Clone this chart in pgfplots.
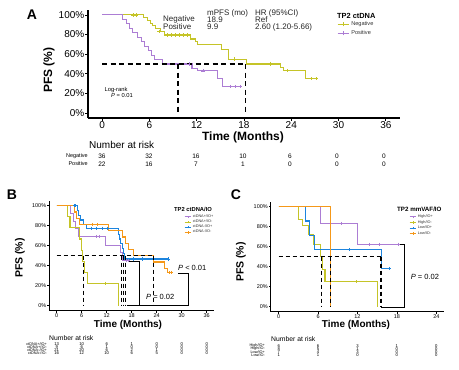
\documentclass[border=0pt]{standalone}
\usepackage{fontspec}
\setmainfont{Liberation Sans}
\usepackage{pgfplots}
\pgfplotsset{compat=1.18}
\definecolor{cY}{RGB}{197,196,40}
\definecolor{cP}{RGB}{172,125,212}
\definecolor{cB}{RGB}{28,132,222}
\definecolor{cO}{RGB}{245,152,25}
\newcommand{\fs}[1]{\fontsize{#1}{#1}\selectfont}
\pgfplotsset{
  km/.style={axis lines=left, axis line style={-, line width=1.1pt, black},
    tick align=outside, major tick length=2.5pt, tick style={black, line width=0.7pt},
    scale only axis, ymin=-5, ymax=105, ytick={0,20,40,60,80,100},
    yticklabels={0\%,20\%,40\%,60\%,80\%,100\%}},
  curve/.style={const plot, line width=1.1pt, #1},
  cens/.style={only marks, mark=+, mark size=1.6pt, mark options={line width=0.6pt}, #1, forget plot},
  med/.style={black, line width=1.7pt, dash pattern=on 5pt off 3.5pt, forget plot},
  medS/.style={black, line width=1.4pt, dash pattern=on 4pt off 3pt, forget plot},
  brk/.style={black, line width=0.8pt, forget plot},
}
\begin{document}
\begin{tikzpicture}
\path[use as bounding box, fill=white] (0,0) rectangle (459pt,-370pt);

% ---------------- Panel A ----------------
\begin{axis}[km, at={(88pt,-118pt)}, anchor=south west, width=312pt, height=108pt,
  xmin=-1.8, xmax=37.8, xtick={0,6,12,18,24,30,36}, xticklabels={0,6,12,18,24,30,36},
  ticklabel style={font=\fs{10}, inner sep=1pt},
  legend style={at={(0.798,0.895)}, anchor=north west, draw=none, fill=none, font=\fs{5.6},
    inner sep=0pt, row sep=3.4pt, nodes={inner xsep=2pt, inner ysep=0pt, text=black!80}},
  legend cell align=left,
  legend image code/.code={\draw[#1,line width=1.1pt] (0pt,0pt) -- (11pt,0pt); \draw[#1,line width=0.6pt] (5.5pt,-2pt) -- (5.5pt,2pt);},
]
\addplot[curve=cY] coordinates {(0,100) (5.3,97.2) (5.8,94.4) (6.1,91.7) (6.4,88.9) (6.8,86.1) (7.4,83.3) (7.9,79.5) (11.2,75.5) (11.8,72.5) (12.1,70.0) (15.1,65.2) (16.0,55.0) (18.3,50.0) (22.6,46.5) (23.0,43.5) (25.8,35.0) (27.4,35.0)};
\addlegendentry{Negative}
\addplot[curve=cP] coordinates {(0,100) (2.6,95.5) (3.1,90.9) (3.5,86.4) (3.9,81.8) (4.5,77.3) (5.0,72.7) (5.4,68.2) (5.9,63.6) (6.3,59.1) (6.6,54.5) (7.6,50.0) (11.4,45.5) (12.1,43.0) (14.6,35.0) (15.3,27.0) (17.7,27.0)};
\addlegendentry{Positive}
\addplot[cens=cY] coordinates {(3.9,100) (4.3,100) (7.2,83.3) (8.3,79.5) (8.8,79.5) (9.3,79.5) (9.8,79.5) (10.3,79.5) (10.8,79.5) (16.8,55) (21.3,50) (23.5,43.5) (26.6,35) (27.2,35)};
\addplot[cens=cP] coordinates {(11.0,50) (12.8,43) (16.3,27) (16.9,27) (17.5,27)};
\addplot[med] coordinates {(0,50) (18.3,50)};
\addplot[med] coordinates {(9.6,50) (9.6,0)};
\addplot[med] coordinates {(18.2,50) (18.2,0)};
\end{axis}

% ---------------- Panel B ----------------
\begin{axis}[km, at={(49.2pt,-310.7pt)}, anchor=south west, width=165pt, height=110pt,
  xmin=-1.8, xmax=37.8, xtick={0,6,12,18,24,30,36}, xticklabels={0,6,12,18,24,30,36},
  major tick length=2pt,
  ticklabel style={font=\fs{5.5}, inner sep=0.8pt},
  legend style={at={(0.817,0.874)}, anchor=north west, draw=none, fill=none, font=\fs{3.8},
    inner sep=0pt, row sep=0.9pt, nodes={inner xsep=1.2pt, inner ysep=0pt, text=black!80}},
  legend cell align=left,
  legend image code/.code={\draw[#1,line width=0.9pt] (0pt,0pt) -- (6.5pt,0pt); \draw[#1,line width=0.5pt] (3.25pt,-1.3pt) -- (3.25pt,1.3pt);},
]
\addplot[curve=cP] coordinates {(0,100) (3.4,92.3) (4.0,84.6) (4.6,76.9) (5.3,69.2) (11.8,60.6) (15.3,53) (15.7,45.4) (17.2,45.4)};
\addlegendentry{ctDNA+/IO+}
\addplot[curve=cY] coordinates {(0,100) (2.7,88.9) (3.2,77.8) (5.5,66.7) (5.9,55.6) (6.3,44.4) (6.7,33.3) (7.3,22.2) (14.9,0)};
\addlegendentry{ctDNA+/IO-}
\addplot[curve=cB] coordinates {(0,100) (4.9,95.2) (5.3,90.5) (5.8,85.7) (6.4,81) (7.2,77.5) (14.8,71.4) (15.1,66.7) (15.4,61.9) (15.7,57.1) (16.0,52.4) (16.3,46.7) (26.8,46.7)};
\addlegendentry{ctDNA-/IO+}
\addplot[curve=cO] coordinates {(0,100) (4.2,93.75) (4.7,87.5) (5.4,81.25) (12.5,75) (15.8,68.75) (16.5,62.5) (17.3,56.25) (18.4,50) (23.2,43.75) (25.9,37.5) (26.6,33.3) (27.6,33.3)};
\addlegendentry{ctDNA-/IO-}
\addplot[cens=cP] coordinates {(9.5,69.2) (10.2,69.2) (16.6,45.4) (17.2,45.4)};
\addplot[cens=cY] coordinates {(11.6,22.2)};
\addplot[cens=cB] coordinates {(4.2,100) (4.5,100) (8.4,77.5) (9.4,77.5) (10.9,77.5) (12.2,77.5) (18.5,46.7) (20.5,46.7) (26.8,46.7)};
\addplot[cens=cO] coordinates {(8.5,81.25) (9.8,81.25) (27.0,33.3) (27.6,33.3)};
\addplot[medS] coordinates {(0,50) (23.2,50)};
\addplot[medS] coordinates {(6.5,50) (6.5,0)};
\addplot[medS] coordinates {(15.5,50) (15.5,0)};
\addplot[medS] coordinates {(16.0,50) (16.0,0)};
\addplot[medS] coordinates {(16.5,50) (16.5,0)};
\addplot[medS] coordinates {(23.2,50) (23.2,0)};
\addplot[brk] coordinates {(17.2,44.5) (19.8,44.5) (19.8,0)};
\addplot[brk] coordinates {(16.8,0) (31.6,0) (31.6,32.4) (29.2,32.4)};
\end{axis}

% ---------------- Panel C ----------------
\begin{axis}[km, at={(270.8pt,-311.7pt)}, anchor=south west, width=173.4pt, height=110pt,
  xmin=-1.2, xmax=25.2, xtick={0,6,12,18,24}, xticklabels={0,6,12,18,24},
  major tick length=2pt,
  ticklabel style={font=\fs{5.5}, inner sep=0.8pt},
  legend style={at={(0.797,0.883)}, anchor=north west, draw=none, fill=none, font=\fs{3.8},
    inner sep=0pt, row sep=1.3pt, nodes={inner xsep=1.2pt, inner ysep=0pt, text=black!80}},
  legend cell align=left,
  legend image code/.code={\draw[#1,line width=0.9pt] (0pt,0pt) -- (6.5pt,0pt); \draw[#1,line width=0.5pt] (3.25pt,-1.3pt) -- (3.25pt,1.3pt);},
]
\addplot[curve=cP] coordinates {(0,100) (6.3,83.3) (12.0,62.5) (18.2,62.5)};
\addlegendentry{High/IO+}
\addplot[curve=cY] coordinates {(0,100) (3.0,87.5) (3.6,81.2) (4.6,72) (5.3,62.5) (6.3,50) (6.7,37.5) (7.05,25) (15.1,0)};
\addlegendentry{High/IO-}
\addplot[curve=cB] coordinates {(0,100) (4.15,85.7) (4.66,71.4) (5.4,57.1) (15.6,38.1) (16.9,38.1)};
\addlegendentry{Low/IO+}
\addplot[curve=cO] coordinates {(0,100) (7.9,0)};
\addlegendentry{Low/IO-}
\addplot[cens=cP] coordinates {(9.6,83.3) (13.8,62.5) (15.3,62.5) (18.2,62.5)};
\addplot[cens=cY] coordinates {(11.8,25)};
\addplot[cens=cB] coordinates {(10.8,57.1) (16.9,38.1)};
\addplot[medS] coordinates {(0,50) (15.6,50)};
\addplot[medS] coordinates {(6.5,50) (6.5,0)};
\addplot[medS] coordinates {(7.9,50) (7.9,0)};
\addplot[medS] coordinates {(15.6,50) (15.6,0)};
\addplot[brk] coordinates {(18.2,62.5) (19.2,62.5) (19.2,-1) (15.6,-1)};
\end{axis}

% ---------------- Text ----------------
\begin{scope}[x=1pt,y=-1pt]
% Panel A
\node[font=\bfseries\fs{14}] at (32,15) {A};
\node[font=\bfseries\fs{12}, rotate=90] at (49,70) {PFS (\%)};
\node[font=\bfseries\fs{12}] at (243,137) {Time (Months)};
\begin{scope}[every node/.style={anchor=west, font=\fs{8}, text=black!85, inner sep=0pt}]
\node at (207,13) {mPFS (mo)};
\node at (255,13) {HR (95\%CI)};
\node at (163,19.5) {Negative};
\node at (207,19.5) {18.9};
\node at (255,19.5) {Ref};
\node at (163,27) {Positive};
\node at (207,27) {9.9};
\node at (255,27) {2.60 (1.20-5.66)};
\end{scope}
\node[anchor=west, font=\bfseries\fs{7.4}, inner sep=0pt] at (337,16) {TP2 ctDNA};
\node[font=\fs{5.8}, inner sep=0pt] at (116,90) {Log-rank};
\node[font=\fs{5.8}, inner sep=0pt] at (122,95.5) {\textit{P} = 0.01};
\node[anchor=west, font=\fs{10}, inner sep=0pt] at (89,145) {Number at risk};
\begin{scope}[every node/.style={font=\fs{6.5}, inner sep=0pt}]
\node[anchor=east, font=\fs{5.5}] at (88,156) {Negative};
\node[anchor=east, font=\fs{5.5}] at (88,164) {Positive};
\foreach \x/\a/\b in {102/36/22, 149/32/16, 196/16/7, 243/10/1, 290/6/0, 337/0/0, 384/0/0} {
  \node at (\x,156) {\a};
  \node at (\x,164) {\b};
}
\end{scope}

% Panel B
\node[font=\bfseries\fs{14}] at (12,195) {B};
\node[font=\bfseries\fs{10.5}, rotate=90] at (20,258) {PFS (\%)};
\node[font=\bfseries\fs{10}] at (128,324.5) {Time (Months)};
\node[anchor=west, font=\bfseries\fs{5.8}, inner sep=0pt] at (174,209.5) {TP2 ctDNA/IO};
\node[anchor=west, font=\fs{7.5}, inner sep=0pt] at (178,268.3) {\textit{P} < 0.01};
\node[anchor=west, font=\fs{7.5}, inner sep=0pt] at (146,296.7) {\textit{P} = 0.02};
\node[anchor=west, font=\fs{6.8}, inner sep=0pt] at (49,338) {Number at risk};
\begin{scope}[every node/.style={font=\fs{4.2}, inner sep=0pt}]
\node[anchor=east, font=\fs{3.8}] at (47,344.3) {ctDNA+/IO+};
\node[anchor=east, font=\fs{3.8}] at (47,347.3) {ctDNA+/IO-};
\node[anchor=east, font=\fs{3.8}] at (47,350.3) {ctDNA-/IO+};
\node[anchor=east, font=\fs{3.8}] at (47,353.3) {ctDNA-/IO-};
\foreach \x/\a/\b/\c/\d in {56.7/13/9/21/16, 81.7/10/6/20/12, 106.7/6/1/6/10, 131.7/1/0/2/6, 156.7/0/0/1/5, 181.7/0/0/0/0, 206.7/0/0/0/0} {
  \node at (\x,344.3) {\a};
  \node at (\x,347.3) {\b};
  \node at (\x,350.3) {\c};
  \node at (\x,353.3) {\d};
}
\end{scope}

% Panel C
\node[font=\bfseries\fs{14}] at (236,195) {C};
\node[font=\bfseries\fs{10.5}, rotate=90] at (241,262) {PFS (\%)};
\node[font=\bfseries\fs{10}] at (356,325) {Time (Months)};
\node[anchor=west, font=\bfseries\fs{6.2}, inner sep=0pt] at (397,209.5) {TP2 mmVAF/IO};
\node[anchor=west, font=\fs{7.5}, inner sep=0pt] at (410.7,276.7) {\textit{P} = 0.02};
\node[anchor=west, font=\fs{6.8}, inner sep=0pt] at (271,339.5) {Number at risk};
\begin{scope}[every node/.style={font=\fs{4.2}, inner sep=0pt}]
\node[anchor=east, font=\fs{3.8}] at (265,345.7) {High/IO+};
\node[anchor=east, font=\fs{3.8}] at (265,348.7) {High/IO-};
\node[anchor=east, font=\fs{3.8}] at (265,351.7) {Low/IO+};
\node[anchor=east, font=\fs{3.8}] at (265,354.7) {Low/IO-};
\foreach \x/\a/\b/\c/\d in {278.7/6/8/7/1, 318.1/6/5/4/1, 357.5/3/1/3/0, 396.9/1/0/0/0, 436.3/0/0/0/0} {
  \node at (\x,345.7) {\a};
  \node at (\x,348.7) {\b};
  \node at (\x,351.7) {\c};
  \node at (\x,354.7) {\d};
}
\end{scope}
\end{scope}
\end{tikzpicture}
\end{document}
